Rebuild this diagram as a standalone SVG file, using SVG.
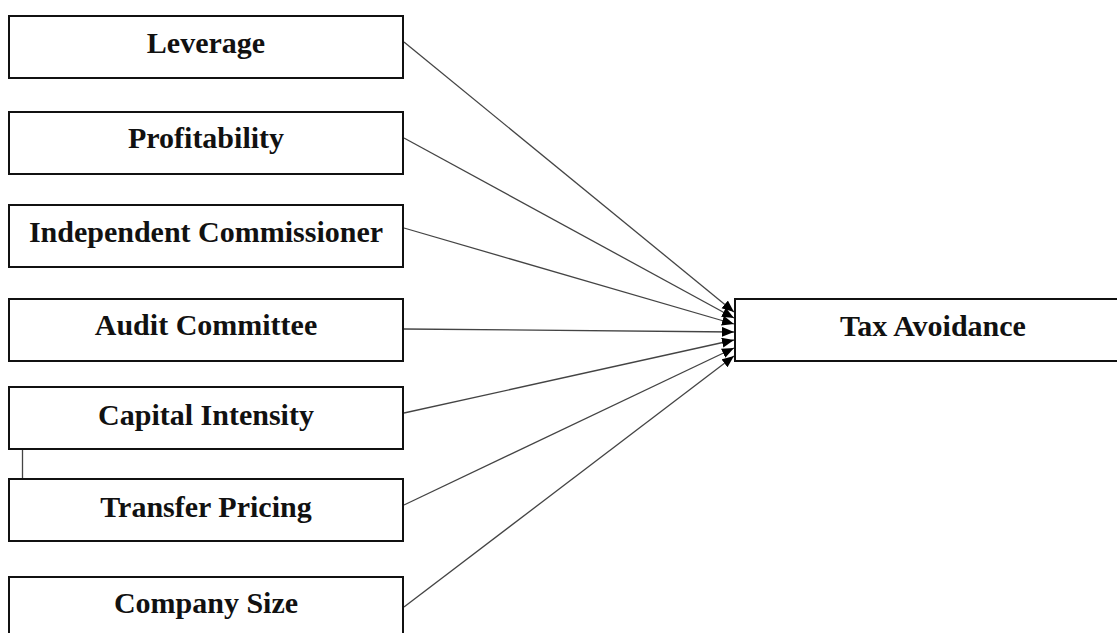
<svg xmlns="http://www.w3.org/2000/svg" width="1117" height="633" viewBox="0 0 1117 633">
<style>
.box{fill:#fff;stroke:#111;stroke-width:2}
.lbl{font-family:"Liberation Serif","Times New Roman",serif;font-weight:bold;font-size:30px;fill:#111;text-anchor:middle}
.edge{stroke:#444;stroke-width:1.3;fill:none}
</style>
<defs>
<marker id="arr" markerUnits="userSpaceOnUse" markerWidth="14" markerHeight="12" refX="12" refY="5" orient="auto">
<path d="M0,0 L12,5 L0,10 Z" fill="#000"/>
</marker>
</defs>
<rect width="1117" height="633" fill="#fff"/>
<g id="connectors">
<line class="edge" x1="404" y1="42" x2="734" y2="312" marker-end="url(#arr)"/>
<line class="edge" x1="404" y1="138" x2="734" y2="318" marker-end="url(#arr)"/>
<line class="edge" x1="404" y1="228" x2="734" y2="324" marker-end="url(#arr)"/>
<line class="edge" x1="404" y1="329" x2="734" y2="332" marker-end="url(#arr)"/>
<line class="edge" x1="404" y1="413" x2="734" y2="340" marker-end="url(#arr)"/>
<line class="edge" x1="404" y1="505" x2="734" y2="348" marker-end="url(#arr)"/>
<line class="edge" x1="404" y1="607" x2="734" y2="356" marker-end="url(#arr)"/>
<line class="edge" x1="22.5" y1="449" x2="22.5" y2="479"/>
</g>
<g id="leverage"><rect class="box" x="9" y="16" width="394" height="62"/><text class="lbl" x="206" y="53">Leverage</text></g>
<g id="profitability"><rect class="box" x="9" y="112" width="394" height="62"/><text class="lbl" x="206" y="148">Profitability</text></g>
<g id="independent-commissioner"><rect class="box" x="9" y="205" width="394" height="62"/><text class="lbl" x="206" y="242">Independent Commissioner</text></g>
<g id="audit-committee"><rect class="box" x="9" y="299" width="394" height="62"/><text class="lbl" x="206" y="335">Audit Committee</text></g>
<g id="capital-intensity"><rect class="box" x="9" y="387" width="394" height="62"/><text class="lbl" x="206" y="425">Capital Intensity</text></g>
<g id="transfer-pricing"><rect class="box" x="9" y="479" width="394" height="62"/><text class="lbl" x="206" y="517">Transfer Pricing</text></g>
<g id="company-size"><rect class="box" x="9" y="577" width="394" height="62"/><text class="lbl" x="206" y="613">Company Size</text></g>
<g id="tax-avoidance"><rect class="box" x="735" y="299" width="396" height="62"/><text class="lbl" x="933" y="336">Tax Avoidance</text></g>
</svg>
